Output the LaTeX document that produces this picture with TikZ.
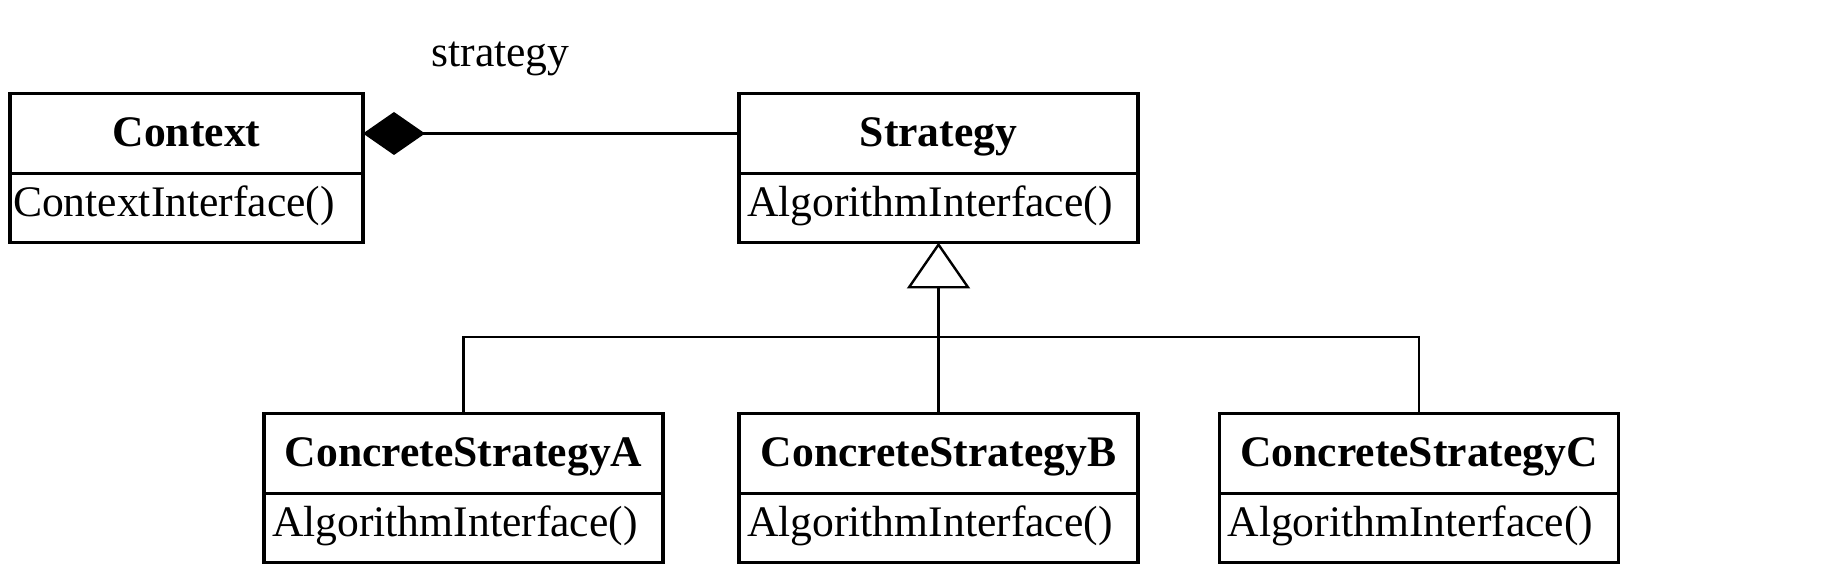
\documentclass[tikz,border=0pt]{standalone}
\usepackage{fontspec}
\setmainfont{Liberation Serif}
\usetikzlibrary{positioning,arrows.meta}
\begin{document}
\begin{tikzpicture}[x=0.25pt,y=-0.25pt,line width=0.6pt,
	every node/.style={font=\fontsize{10.9pt}{13pt}\selectfont},
	classname/.style={draw, line width=0.85pt, outer sep=0pt, inner ysep=0pt, minimum height=20pt, text height=0.66em, text depth=0pt, font=\fontsize{10.9pt}{13pt}\selectfont\bfseries},
	classops/.style={draw, line width=0.85pt, outer sep=0pt, inner ysep=0pt, inner xsep=2pt, minimum height=17.25pt, text height=0.66em, text depth=0.22em, align=left, text width=#1}]
	\useasboundingbox (0,0) rectangle (1826,575);
	\node (ctx) at (186.5, 133.5)	[classname, minimum width=88.25pt]	{Context};
	\node (ctxop) [classops=86.75pt, inner xsep=0.75pt, below=0pt of ctx]	{ContextInterface()};
	\node (strat) at (938.5, 133.5)	[classname, minimum width=99.75pt]	{Strategy};
	\node (stratop) [classops=95.75pt, below=0pt of strat]	{AlgorithmInterface()};
	\node (csa) at ( 463.5, 453.5)	[classname, minimum width=99.75pt]	{ConcreteStrategyA};
	\node (csaop) [classops=95.75pt, below=0pt of csa]	{AlgorithmInterface()};
	\node (csb) at ( 938.5, 453.5)	[classname, minimum width=99.75pt]	{ConcreteStrategyB};
	\node (csbop) [classops=95.75pt, below=0pt of csb]	{AlgorithmInterface()};
	\node (csc) at (1419, 453.5)	[classname, minimum width=99.75pt]	{ConcreteStrategyC};
	\node (cscop) [classops=95.75pt, below=0pt of csc]	{AlgorithmInterface()};
	\node (role) at (500.5, 67)	[anchor=base]	{strategy};
	\coordinate (bar) at (938.5, 337);
	\draw [{Diamond[length=15.5pt,width=10.75pt]}-] (ctx.east) -- (strat.west);
	\draw [-{Triangle[open,length=11.5pt,width=15.75pt]}] (csb.north) -- (stratop.south);
	\draw (csa.north) |- (bar) -| (csc.north);
\end{tikzpicture}
\end{document}
